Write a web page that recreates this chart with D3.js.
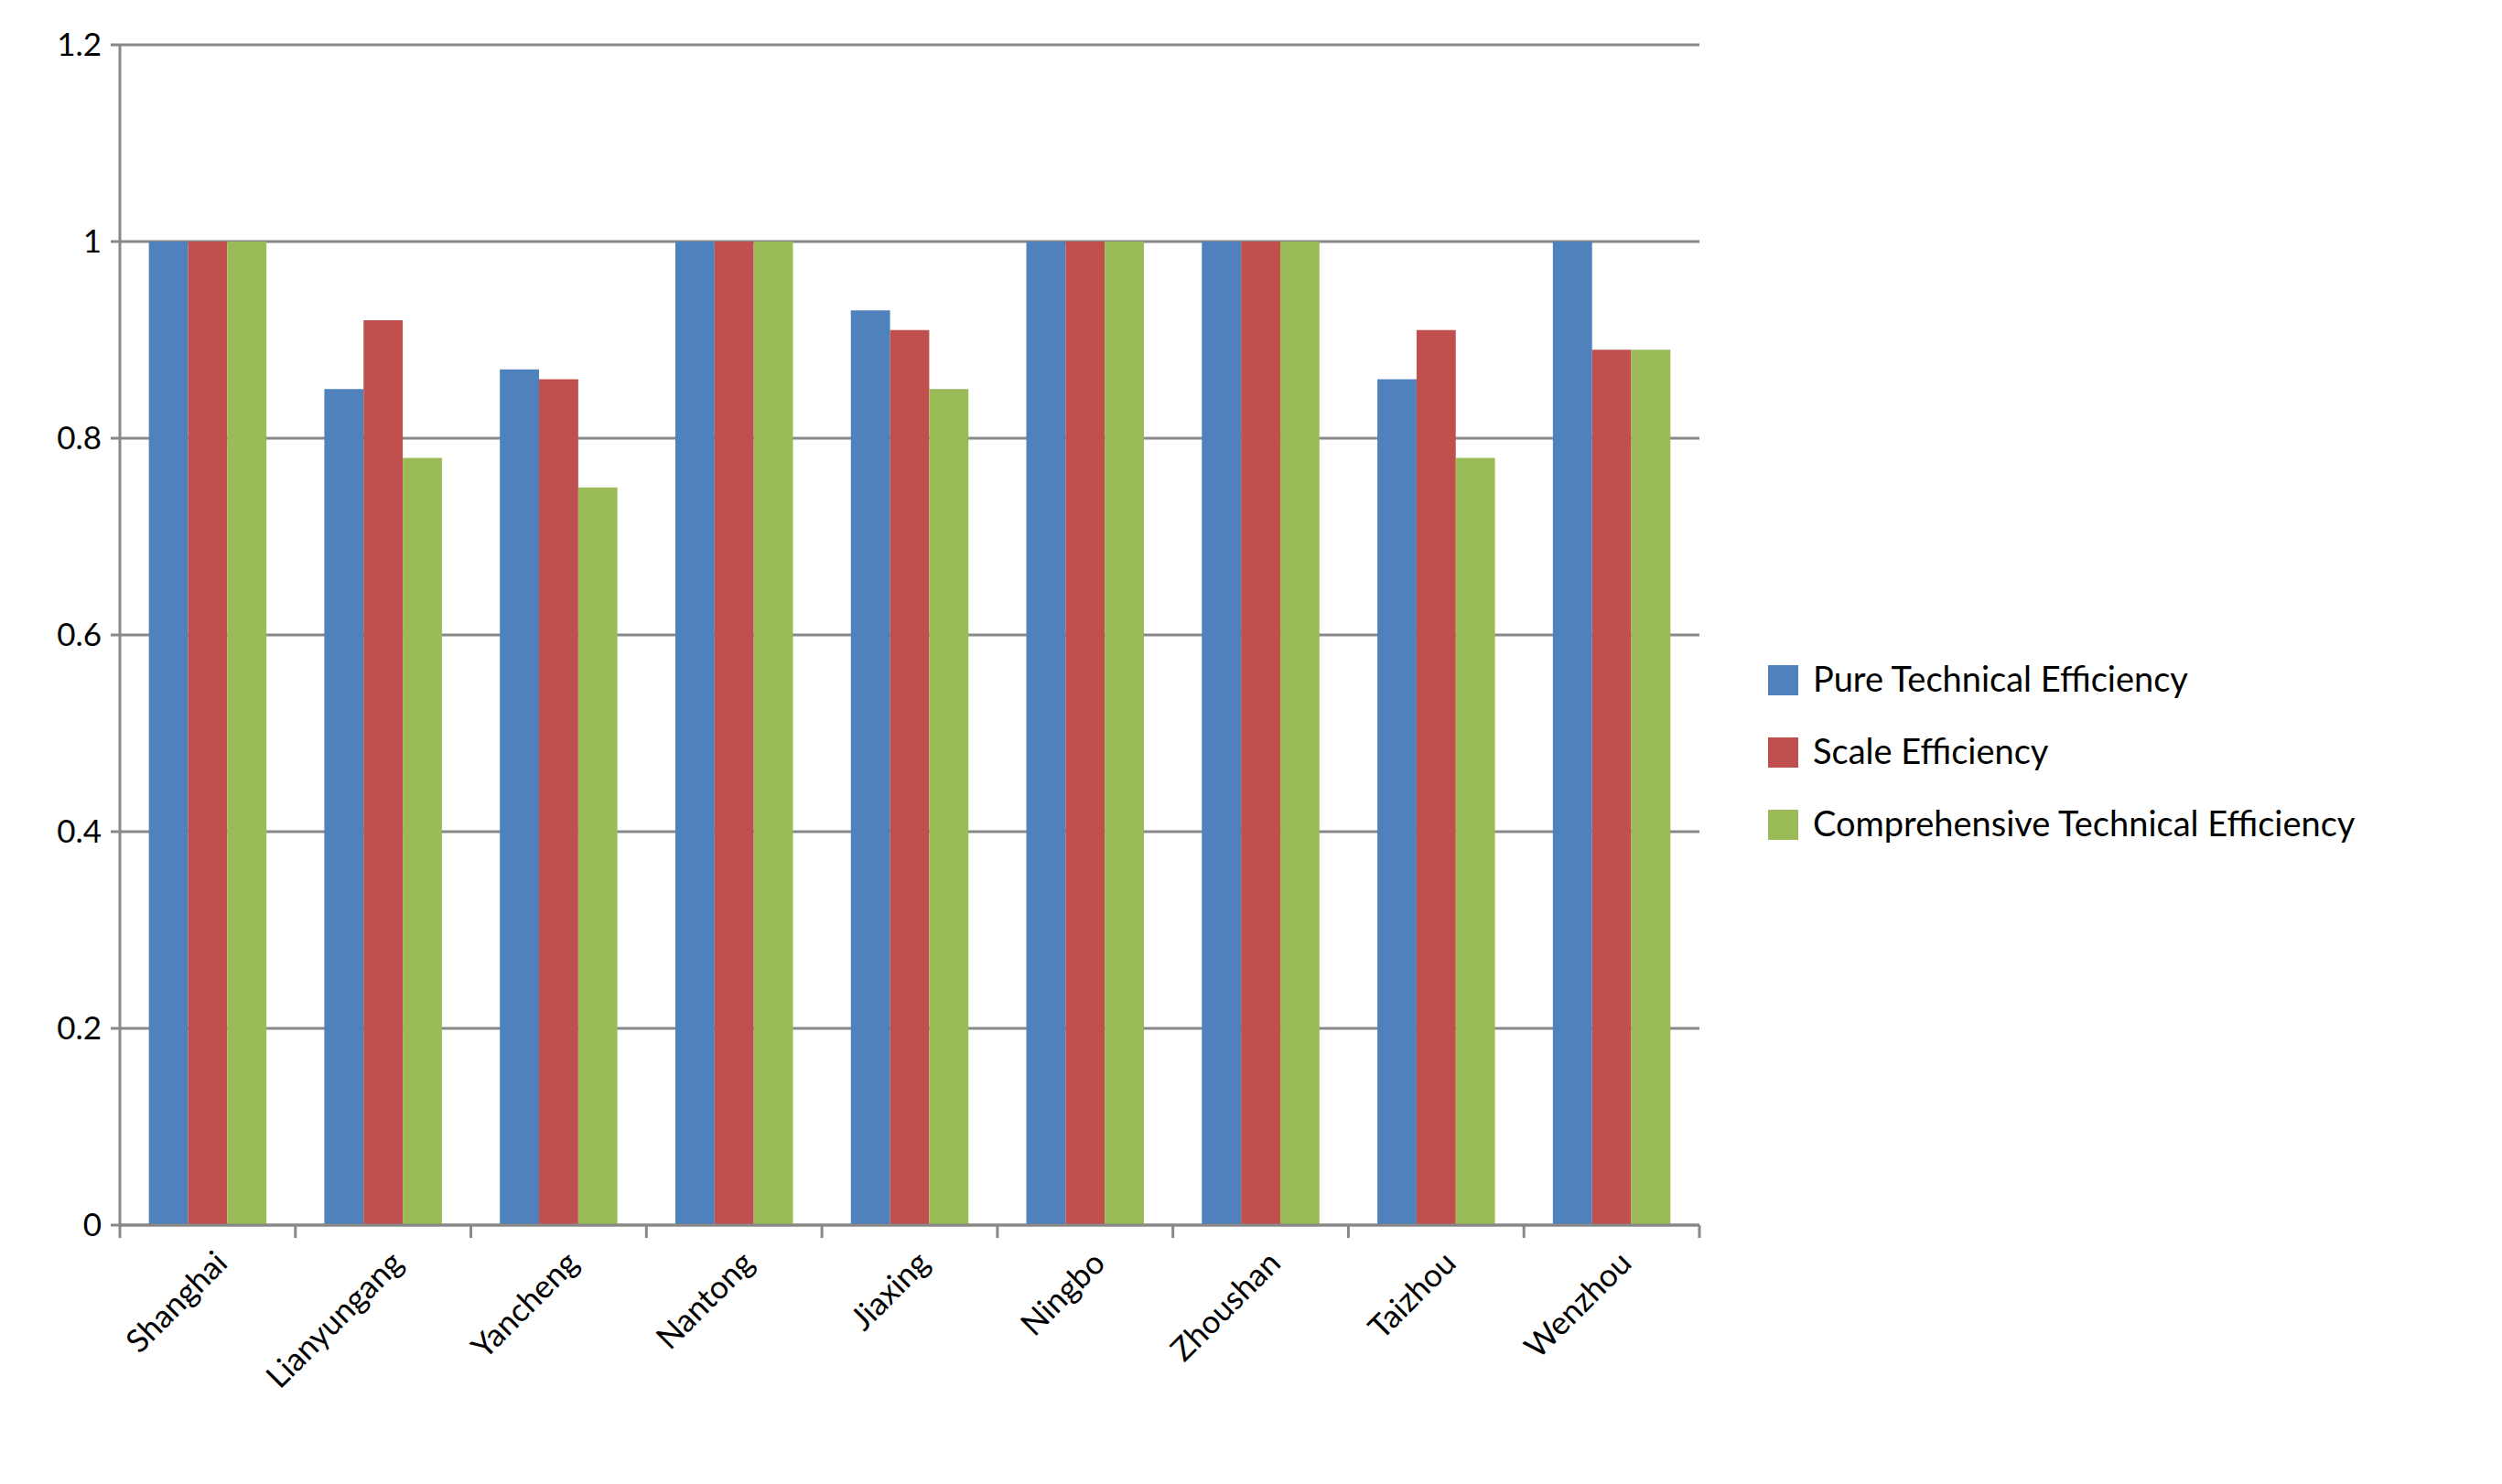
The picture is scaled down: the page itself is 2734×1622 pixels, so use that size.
<!DOCTYPE html>
<html><head><meta charset="utf-8">
<script src="https://cdn.jsdelivr.net/npm/d3@7"></script>
<style>body{margin:0;background:#fff}</style></head>
<body><svg id="c" width="2734" height="1622"></svg>
<script>
const categories = ["Shanghai","Lianyungang","Yancheng","Nantong","Jiaxing","Ningbo","Zhoushan","Taizhou","Wenzhou"];
const seriesNames = ["Pure Technical Efficiency","Scale Efficiency","Comprehensive Technical Efficiency"];
const pte = [1,0.85,0.87,1,0.93,1,1,0.86,1];
const se  = [1,0.92,0.86,1,0.91,1,1,0.91,0.89];
const cte = [1,0.78,0.75,1,0.85,1,1,0.78,0.89];
const yTicks = [0,0.2,0.4,0.6,0.8,1,1.2];
const colors = ["#4F81BD","#C0504D","#9BBB59"];
const series = [pte,se,cte];
const font = "Lato, 'Open Sans', sans-serif";
const svg = d3.select("#c");
const L=131,R=1857,T=49,B=1339;
const x = d3.scaleBand().domain(categories).range([L,R]);
const y = d3.scaleLinear().domain([0,1.2]).range([B,T]);
const gridC="#888";
svg.append("g").selectAll("line").data(yTicks).join("line")
 .attr("x1",L-10).attr("x2",R).attr("y1",d=>y(d)).attr("y2",d=>y(d))
 .attr("stroke",gridC).attr("stroke-width",3);
svg.append("g").selectAll("text").data(yTicks).join("text")
 .attr("x",L-20).attr("y",d=>y(d)).attr("dy","0.35em").attr("text-anchor","end")
 .attr("font-family",font).attr("font-size",35).text(d=>d);
const inner = d3.scaleBand().domain([0,1,2]).range([0,x.bandwidth()*0.67]);
const off = x.bandwidth()*0.165;
series.forEach((s,i)=>{
 svg.append("g").selectAll("rect").data(s).join("rect")
  .attr("x",(d,j)=>x(categories[j])+off+inner(i)).attr("width",inner.bandwidth())
  .attr("y",d=>y(d)).attr("height",d=>B-y(d)).attr("fill",colors[i]);
});
svg.append("line").attr("x1",L).attr("x2",L).attr("y1",T).attr("y2",B).attr("stroke",gridC).attr("stroke-width",3);
svg.append("line").attr("x1",L).attr("x2",R).attr("y1",B).attr("y2",B).attr("stroke",gridC).attr("stroke-width",3);
const bounds = categories.map(c=>x(c)).concat([R]);
svg.append("g").selectAll("line").data(bounds).join("line")
 .attr("x1",d=>d).attr("x2",d=>d).attr("y1",B).attr("y2",B+14).attr("stroke",gridC).attr("stroke-width",3);
svg.append("g").selectAll("text").data(categories).join("text")
 .attr("transform",d=>`translate(${x(d)+x.bandwidth()/2+15},${B+35}) rotate(-45)`)
 .attr("text-anchor","end").attr("dy","0.35em")
 .attr("font-family",font).attr("font-size",35).text(d=>d);
const lg = svg.append("g");
seriesNames.forEach((n,i)=>{
 const yy = 743+i*79;
 lg.append("rect").attr("x",1932).attr("y",yy-16).attr("width",33).attr("height",33).attr("fill",colors[i]);
 lg.append("text").attr("x",1981).attr("y",yy).attr("dy","0.35em")
  .attr("font-family",font).attr("font-size",38).text(n);
});
</script></body></html>
